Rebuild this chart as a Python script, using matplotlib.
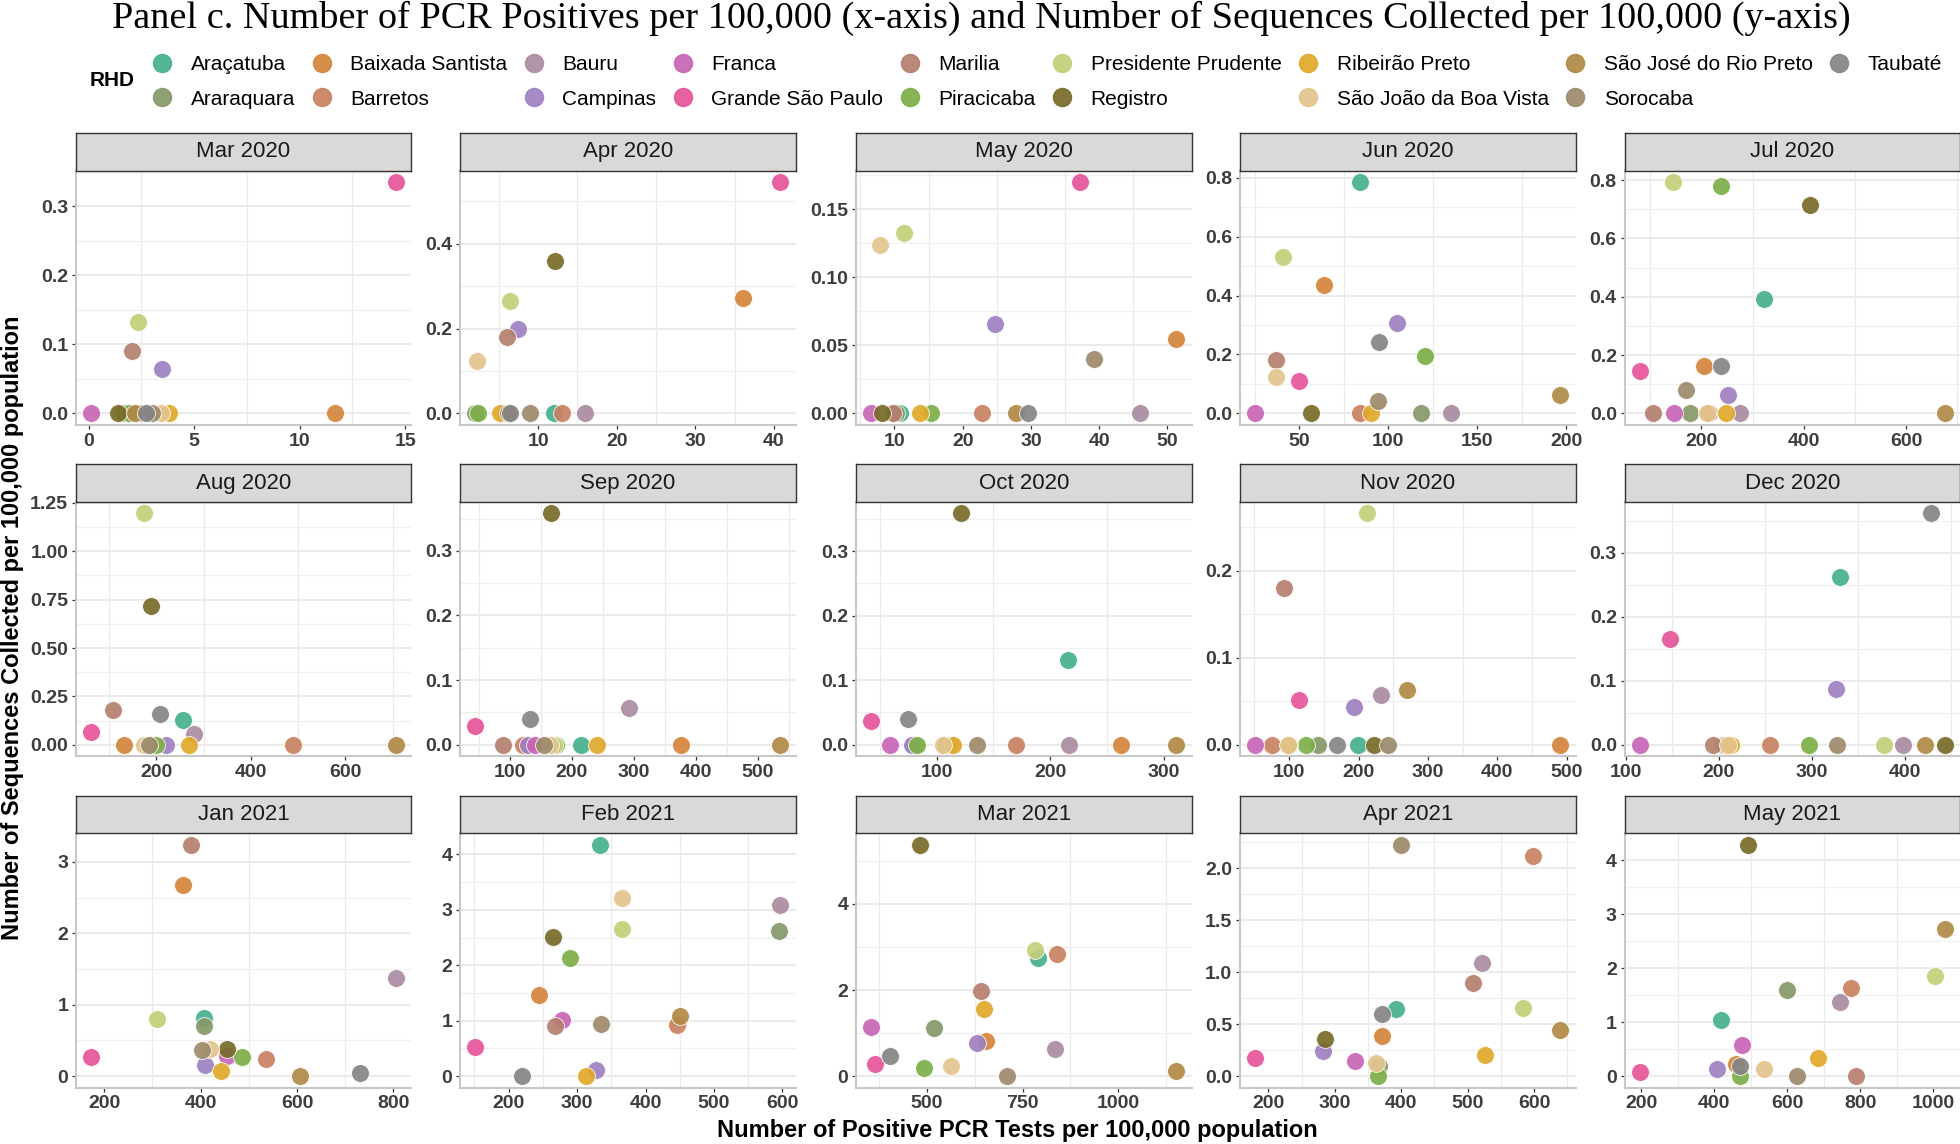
import matplotlib
matplotlib.use("Agg")
import matplotlib.pyplot as plt
from matplotlib.lines import Line2D
import numpy as np

plt.rcParams['font.family'] = ['Liberation Sans', 'DejaVu Sans']

# ---------------- data ----------------
regions = ["Araçatuba", "Araraquara", "Baixada Santista", "Barretos", "Bauru",
           "Campinas", "Franca", "Grande São Paulo", "Marilia", "Piracicaba",
           "Presidente Prudente", "Registro", "Ribeirão Preto",
           "São João da Boa Vista", "São José do Rio Preto", "Sorocaba", "Taubaté"]
colors = ["#45B08E", "#869868", "#D4843A", "#C98162", "#A98BA0",
          "#9E80C0", "#C865B5", "#E6559A", "#B57F6E", "#7DAF48",
          "#C4CF78", "#776A28", "#E0A82A", "#E2C48C", "#B08A45", "#9C8A6A", "#858585"]

months = ["Mar 2020", "Apr 2020", "May 2020", "Jun 2020", "Jul 2020",
          "Aug 2020", "Sep 2020", "Oct 2020", "Nov 2020", "Dec 2020",
          "Jan 2021", "Feb 2021", "Mar 2021", "Apr 2021", "May 2021"]

# PCR positives per 100,000 (x) and sequences per 100,000 (y), in region order
pcr_mar20 = [2.0, 1.7, 11.7, 2.5, 2.9, 3.5, 0.12, 14.57, 2.07, 1.9, 2.35, 1.42, 3.82, 3.42, 2.2, 3.0, 2.74]
seq_mar20 = [0, 0, 0, 0, 0, 0.065, 0, 0.335, 0.09, 0, 0.132, 0, 0, 0, 0, 0, 0]
pcr_apr20 = [12.0, 2.0, 36.0, 13.0, 16.0, 7.4, 5.8, 40.8, 6.0, 2.4, 6.4, 12.2, 5.2, 2.2, 6.2, 9.0, 6.4]
seq_apr20 = [0, 0, 0.273, 0, 0, 0.198, 0, 0.545, 0.181, 0, 0.265, 0.36, 0, 0.124, 0, 0, 0]
pcr_may20 = [10.8, 10.2, 51.3, 22.8, 46.0, 24.8, 6.6, 37.2, 9.8, 15.3, 11.4, 8.2, 13.7, 7.9, 27.8, 39.2, 29.5]
seq_may20 = [0, 0, 0.0546, 0, 0, 0.0657, 0, 0.170, 0, 0, 0.1325, 0, 0, 0.1234, 0, 0.0403, 0]
pcr_jun20 = [84.0, 118.3, 63.9, 84.2, 135.2, 104.8, 25.3, 49.6, 37.2, 120.7, 40.7, 56.8, 90.3, 37.2, 196.5, 94.0, 94.5]
seq_jun20 = [0.785, 0, 0.437, 0, 0, 0.306, 0, 0.109, 0.182, 0.195, 0.532, 0, 0, 0.125, 0.0624, 0.042, 0.241]
pcr_jul20 = [323.2, 177, 204.6, 215, 275.4, 252.4, 146.7, 79.5, 105.3, 238.6, 144.8, 411.5, 247.8, 211, 675.4, 169.7, 238.6]
seq_jul20 = [0.391, 0, 0.161, 0, 0, 0.063, 0, 0.146, 0, 0.778, 0.793, 0.715, 0, 0, 0, 0.080, 0.161]
pcr_aug20 = [256.2, 195, 131.8, 489.8, 280.4, 219.8, 190, 62.3, 108.5, 200, 174.7, 189, 269.4, 174.7, 707, 185.7, 208.8]
seq_aug20 = [0.130, 0, 0, 0, 0.057, 0, 0, 0.066, 0.1815, 0, 1.196, 0.717, 0, 0, 0, 0, 0.161]
pcr_sep20 = [215, 170, 375.6, 121, 291.6, 130, 140, 44.5, 89, 175, 172, 166.4, 240, 165, 536, 154.6, 132.8]
seq_sep20 = [0, 0, 0, 0, 0.0574, 0, 0, 0.0285, 0, 0, 0, 0.358, 0, 0, 0, 0, 0.0398]
pcr_oct20 = [216, 80, 262.4, 169.6, 217, 78, 59.3, 42.5, 108, 82.5, 112, 121.8, 114.5, 105.7, 311, 135.3, 75.1]
seq_oct20 = [0.131, 0, 0, 0, 0, 0, 0, 0.0373, 0, 0, 0, 0.3585, 0, 0, 0, 0, 0.040]
pcr_nov20 = [199, 141.4, 490.5, 74.9, 232.2, 193.6, 51.2, 114.2, 93.2, 125, 211.9, 222, 100, 98, 270.2, 243, 168.5]
seq_nov20 = [0, 0, 0, 0, 0.0569, 0.0435, 0, 0.0519, 0.180, 0, 0.266, 0, 0, 0, 0.0635, 0, 0]
pcr_dec20 = [330.3, 205, 208, 255, 398, 326.3, 115.3, 147.7, 194.2, 297.4, 377.4, 443.1, 213, 210.4, 421.9, 327.8, 427.9]
seq_dec20 = [0.262, 0, 0, 0, 0, 0.0878, 0, 0.1657, 0, 0, 0, 0, 0, 0, 0, 0, 0.362]
pcr_jan21 = [406.5, 407.6, 364.3, 536.2, 805.4, 409.7, 455, 173, 380.5, 486.5, 310.3, 455, 442, 419.5, 605.4, 402.2, 729.7]
seq_jan21 = [0.814, 0.702, 2.672, 0.239, 1.380, 0.15, 0.276, 0.271, 3.238, 0.267, 0.796, 0.384, 0.0655, 0.379, 0.0, 0.370, 0.042]
pcr_feb21 = [332.8, 594.7, 245, 446.6, 597, 328.2, 277.9, 151.1, 267.2, 290, 365.6, 264.9, 313, 365.6, 450.4, 335, 219]
seq_feb21 = [4.175, 2.618, 1.466, 0.929, 3.095, 0.115, 1.02, 0.525, 0.899, 2.136, 2.649, 2.504, 0, 3.21, 1.092, 0.935, 0]
pcr_mar21 = [791.4, 519, 653.7, 841.3, 835.3, 631.8, 354.3, 365.3, 641.7, 491, 783.4, 482, 648.7, 563, 1152, 710, 403.2]
seq_mar21 = [2.734, 1.111, 0.816, 2.827, 0.629, 0.769, 1.142, 0.272, 1.981, 0.194, 2.928, 5.375, 1.553, 0.241, 0.117, 0, 0.474]
pcr_apr21 = [391.9, 366.4, 370.6, 598.6, 521.4, 281.5, 330.3, 180.2, 508.6, 365, 583.7, 285, 526.4, 362.8, 639.6, 399.6, 370.6]
seq_apr21 = [0.65, 0.093, 0.383, 2.113, 1.090, 0.241, 0.141, 0.174, 0.897, 0, 0.659, 0.36, 0.199, 0.125, 0.447, 2.225, 0.601]
pcr_may21 = [418, 600, 460.6, 774.2, 745.8, 409, 477.4, 196.1, 789.7, 471, 1006.5, 492.9, 685.2, 535.5, 1032, 625.8, 471]
seq_may21 = [1.048, 1.606, 0.229, 1.643, 1.377, 0.136, 0.571, 0.074, 0, 0, 1.86, 4.29, 0.341, 0.124, 2.729, 0, 0.186]

# tick labels per panel
xt_labels = [["0", "5", "10", "15"], ["10", "20", "30", "40"], ["10", "20", "30", "40", "50"],
             ["50", "100", "150", "200"], ["200", "400", "600"],
             ["200", "400", "600"], ["100", "200", "300", "400", "500"], ["100", "200", "300"],
             ["100", "200", "300", "400", "500"], ["100", "200", "300", "400"],
             ["200", "400", "600", "800"], ["200", "300", "400", "500", "600"], ["500", "750", "1000"],
             ["200", "300", "400", "500", "600"], ["200", "400", "600", "800", "1000"]]
yt_labels = [["0.0", "0.1", "0.2", "0.3"], ["0.0", "0.2", "0.4"], ["0.00", "0.05", "0.10", "0.15"],
             ["0.0", "0.2", "0.4", "0.6", "0.8"], ["0.0", "0.2", "0.4", "0.6", "0.8"],
             ["0.00", "0.25", "0.50", "0.75", "1.00", "1.25"], ["0.0", "0.1", "0.2", "0.3"],
             ["0.0", "0.1", "0.2", "0.3"], ["0.0", "0.1", "0.2"], ["0.0", "0.1", "0.2", "0.3"],
             ["0", "1", "2", "3"], ["0", "1", "2", "3", "4"], ["0", "2", "4"],
             ["0.0", "0.5", "1.0", "1.5", "2.0"], ["0", "1", "2", "3", "4"]]

pcr_by_month = [pcr_mar20, pcr_apr20, pcr_may20, pcr_jun20, pcr_jul20, pcr_aug20, pcr_sep20,
                pcr_oct20, pcr_nov20, pcr_dec20, pcr_jan21, pcr_feb21, pcr_mar21, pcr_apr21, pcr_may21]
seq_by_month = [seq_mar20, seq_apr20, seq_may20, seq_jun20, seq_jul20, seq_aug20, seq_sep20,
                seq_oct20, seq_nov20, seq_dec20, seq_jan21, seq_feb21, seq_mar21, seq_apr21, seq_may21]

# ---------------- layout ----------------
W, H = 1960, 1144
fig = plt.figure(figsize=(W / 100, H / 100), dpi=100)
fig.patch.set_facecolor("white")

col_left = [75.8, 460, 856, 1240, 1624.5]
panel_w = 335.5
row_strip_top = [133, 464.3, 795.7]
strip_h = 37.5
panel_h = 254.5


def minor_positions(major, lo, hi):
    major = np.asarray(major, dtype=float)
    step = major[1] - major[0]
    ext = np.concatenate([[major[0] - step], major, [major[-1] + step]])
    mids = (ext[:-1] + ext[1:]) / 2
    return [m for m in mids if lo <= m <= hi]


for i, month in enumerate(months):
    r, c = divmod(i, 5)
    L = col_left[c]
    T = row_strip_top[r] + strip_h
    ax = fig.add_axes([L / W, 1 - (T + panel_h) / H, panel_w / W, panel_h / H])
    sax = fig.add_axes([L / W, 1 - T / H, panel_w / W, strip_h / H])

    # strip
    sax.set_facecolor("#d9d9d9")
    sax.set_xticks([])
    sax.set_yticks([])
    for sp in sax.spines.values():
        sp.set_color("#333333")
        sp.set_linewidth(1.0)
    sax.text(0.5, 0.5, month, ha="center", va="center", fontsize=16, color="#1a1a1a",
             transform=sax.transAxes)

    xs = pcr_by_month[i]
    ys = seq_by_month[i]
    for k in range(len(regions)):
        ax.scatter([xs[k]], [ys[k]], s=165, color=colors[k], alpha=0.92,
                   edgecolor="white", linewidth=0.6, zorder=3, clip_on=False)

    ax.margins(0.05)
    ax.autoscale_view()
    xlim = ax.get_xlim()
    ylim = ax.get_ylim()

    xmaj = [float(t) for t in xt_labels[i]]
    ymaj = [float(t) for t in yt_labels[i]]
    ax.set_xticks(xmaj, xt_labels[i], fontweight="bold")
    ax.set_yticks(ymaj, yt_labels[i], fontweight="bold")
    ax.set_xticks(minor_positions(xmaj, *xlim), minor=True)
    ax.set_yticks(minor_positions(ymaj, *ylim), minor=True)
    ax.set_xlim(xlim)
    ax.set_ylim(ylim)

    ax.set_axisbelow(True)
    ax.yaxis.grid(True, which="major", color="#ebebeb", linewidth=1.5)
    ax.yaxis.grid(True, which="minor", color="#f0f0f0", linewidth=0.9)
    ax.xaxis.grid(True, which="minor", color="#ebebeb", linewidth=0.9)
    ax.xaxis.grid(False, which="major")

    for side in ["top", "right"]:
        ax.spines[side].set_visible(False)
    for side in ["left", "bottom"]:
        ax.spines[side].set_color("#c8c8c8")
        ax.spines[side].set_linewidth(1.5)

    ax.tick_params(axis="both", which="major", length=3, width=0.9, color="#333333",
                   labelsize=14, labelcolor="#3d3d3d", pad=2.5)
    ax.tick_params(axis="both", which="minor", length=0)

# ---------------- text ----------------
fig.text(981 / W, 1 - 28 / H,
         "Panel c. Number of PCR Positives per 100,000 (x-axis) and Number of Sequences Collected per 100,000 (y-axis)",
         ha="center", va="baseline", fontsize=27.5, family="Liberation Serif", color="black")

fig.text(90 / W, 1 - 80 / H, "RHD", ha="left", va="center", fontsize=15, fontweight="bold")

handles = [Line2D([0], [0], marker="o", linestyle="", markersize=13,
                  markerfacecolor=col, markeredgecolor=col, alpha=0.92) for col in colors]
fig.legend(handles, regions, ncol=9, loc="upper left", bbox_to_anchor=(152 / W, 1 - 55 / H),
           frameon=False, fontsize=15, handlelength=1.0, handletextpad=0.87,
           columnspacing=0.77, labelspacing=0.75, borderpad=0, borderaxespad=0)

fig.text(1017 / W, 1 - 1130 / H, "Number of Positive PCR Tests per 100,000 population",
         ha="center", va="center", fontsize=17, fontweight="bold")
fig.text(12.5 / W, 1 - 628 / H, "Number of Sequences Collected per 100,000 population",
         ha="center", va="center", rotation=90, fontsize=17, fontweight="bold")

fig.savefig("out.png", dpi=100, facecolor="white")
